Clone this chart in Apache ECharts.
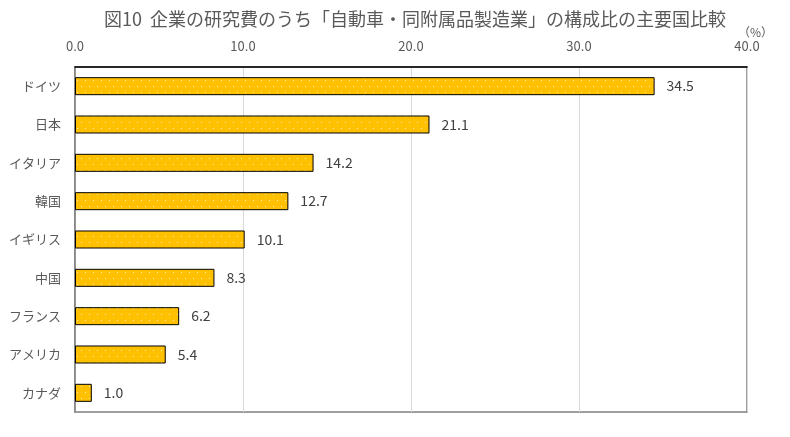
<!DOCTYPE html>
<html><head><meta charset="utf-8">
<script src="https://cdn.jsdelivr.net/npm/echarts@6/dist/echarts.min.js"></script>
<style>html,body{margin:0;padding:0;background:#fff;}#c{width:790px;height:437px;}</style>
</head><body><div id="c"></div>
<script>
const categories = ['ドイツ','日本','イタリア','韓国','イギリス','中国','フランス','アメリカ','カナダ'];
const values = [34.5, 21.1, 14.2, 12.7, 10.1, 8.3, 6.2, 5.4, 1.0];
const titleText = '図10  企業の研究費のうち「自動車・同附属品製造業」の構成比の主要国比較';

const tile = document.createElement('canvas');
tile.width = 8; tile.height = 12;
const g = tile.getContext('2d');
g.fillStyle = '#FFC000'; g.fillRect(0,0,8,12);
g.fillStyle = 'rgba(255,240,200,0.95)';
g.fillRect(1,2,1,1);
g.fillRect(5,8,1,1);

const FONT = '"Noto Sans CJK JP", "Noto Sans", sans-serif';
const chart = echarts.init(document.getElementById('c'), null, {renderer:'canvas'});
chart.setOption({
  animation:false,
  backgroundColor:'#fff',
  title:{text:titleText,left:99,top:5,textStyle:{fontFamily:FONT,fontSize:18,fontWeight:'normal',color:'#595959'}},
  graphic:[{type:'text',left:738,top:26,style:{text:'（%）',font:'12px '+FONT,fill:'#595959'}}],
  grid:{left:75,right:43,top:67,bottom:25,show:true,borderColor:'#7f7f7f',borderWidth:1.5},
  xAxis:{type:'value',position:'top',min:0,max:40,interval:10,
    axisLine:{show:true,lineStyle:{color:'#000',width:1.5}},
    axisTick:{show:false},
    axisLabel:{formatter:v=>v.toFixed(1),color:'#595959',fontFamily:FONT,fontSize:13,margin:14},
    splitLine:{show:true,lineStyle:{color:'#d9d9d9',width:1}}},
  yAxis:{type:'category',data:categories,inverse:true,
    axisLine:{show:true,lineStyle:{color:'#7f7f7f',width:1.5}},
    axisTick:{show:false},
    axisLabel:{color:'#595959',fontFamily:FONT,fontSize:13,margin:14}},
  series:[{type:'bar',data:values,barCategoryGap:'53%',
    itemStyle:{color:{image:tile,repeat:'repeat'},borderColor:'#000',borderWidth:1},
    label:{show:true,position:'right',distance:12,formatter:p=>p.value.toFixed(1),color:'#404040',fontFamily:FONT,fontSize:14}}]
});
</script></body></html>
